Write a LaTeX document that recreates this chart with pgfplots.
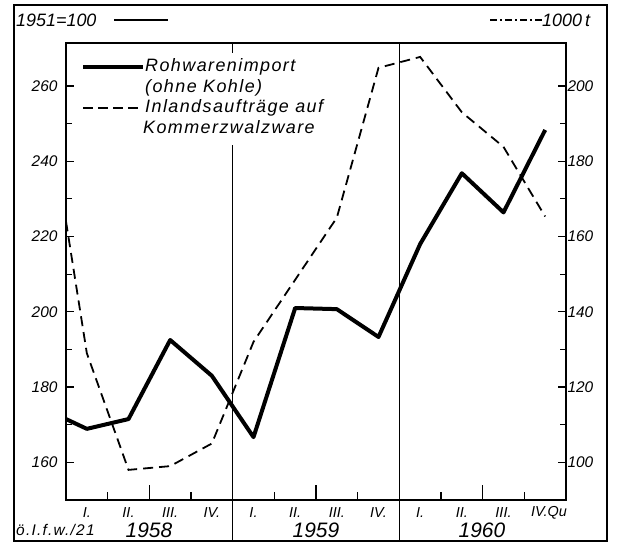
\documentclass[border=0pt]{standalone}
\usepackage{pgfplots}
\pgfplotsset{compat=1.18}
\usepackage{fontspec}
\setmainfont{Liberation Sans}
\newfontfamily\lsp[LetterSpace=8]{Liberation Sans}
\newcommand{\fs}[1]{\fontsize{#1}{#1}\selectfont\itshape}
\newcommand{\fl}[1]{\lsp\fontsize{#1}{#1}\selectfont\itshape}
\begin{document}
\begin{tikzpicture}
\useasboundingbox (0bp,0bp) rectangle (619bp,547bp);
\begin{scope}[x=1bp,y=1bp]
% outer frame
\draw[line width=2bp] (14,6) rectangle (607,542);
\end{scope}
\begin{axis}[
  at={(66bp,47bp)}, anchor=south west, scale only axis,
  width=500bp, height=457bp,
  xmin=0, xmax=12, ymin=150, ymax=271.4,
  axis line style={line width=1.6bp},
  tick align=inside, ytick pos=left, xtick pos=bottom,
  ytick={160,180,...,260}, minor ytick={170,190,...,250},
  xtick={1,3,5,7,9,11}, xticklabels={},
  extra x ticks={2,6,10}, extra x tick labels={},
  extra x tick style={major tick length=15bp},
  major tick length=8bp, minor tick length=6bp,
  every tick/.style={line width=1.2bp, black},
  /pgf/number format/assume math mode=true,
  yticklabel style={font=\fs{15.5}, xshift=-5bp},
  clip=false,
]
\addplot[black, line width=4bp, line join=round] coordinates {
 (0,171.5) (0.5,168.9) (1.5,171.5) (2.5,192.5) (3.5,183.0)
 (4.5,166.7) (5.5,201.0) (6.5,200.7) (7.5,193.3)
 (8.5,218.0) (9.5,236.8) (10.5,226.4) (11.5,248.3)};
\end{axis}
\begin{axis}[
  at={(66bp,47bp)}, anchor=south west, scale only axis,
  width=500bp, height=457bp,
  xmin=0, xmax=12, ymin=90, ymax=211.4,
  axis x line=none, axis y line*=right,
  axis line style={line width=1.6bp},
  tick align=inside,
  ytick={100,120,...,200}, minor ytick={110,130,...,190},
  major tick length=8bp, minor tick length=6bp,
  every tick/.style={line width=1.2bp, black},
  /pgf/number format/assume math mode=true,
  yticklabel style={font=\fs{15.5}, xshift=-2bp},
  clip=false,
]
\addplot[black, line width=1.8bp, dash pattern=on 10bp off 6bp] coordinates {
 (0,164) (0.5,129) (1.5,98) (2.5,99) (3.5,105)
 (4.5,132) (5.5,148.5) (6.5,165) (7.5,204.8)
 (8.5,207.7) (9.5,193) (10.5,183.8) (11.5,165.3)};
\end{axis}
\begin{scope}[x=1bp,y=1bp]
% year separators
\draw[line width=1.4bp] (232.7,6) -- (232.7,402);
\draw[line width=1.4bp] (232.7,504) -- (232.7,494);
\draw[line width=1.4bp] (399.3,6) -- (399.3,504);
% legend
\draw[line width=3.5bp] (83,480) -- (143,480);
\node[anchor=west, inner sep=0] at (145,480) {\fl{18}Rohwarenimport};
\node[anchor=west, inner sep=0] at (145,459) {\fl{18}(ohne Kohle)};
\draw[line width=1.8bp, dash pattern=on 10bp off 5bp] (83,439) -- (143,439);
\node[anchor=west, inner sep=0] at (145,439) {\fl{18}Inlandsaufträge auf};
\node[anchor=west, inner sep=0] at (143,420) {\fl{18}Kommerzwalzware};
% header
\node[anchor=west, inner sep=0] at (16,527) {\fs{18}1951=100};
\draw[line width=2.5bp] (114,527) -- (168,527);
\draw[line width=1.4bp, dash pattern=on 7bp off 3bp on 2bp off 3bp] (490,527) -- (542,527);
\node[anchor=west, inner sep=0] at (542,527) {\fs{18}1000\,t};
% quarter labels
\foreach \x/\l in {86.8/I., 128.5/II., 170.2/III., 211.8/IV., 253.5/I., 295.2/II., 336.8/III., 378.5/IV., 420.2/I., 461.8/II., 503.5/III.}
  \node[inner sep=0] at (\x,34) {\fs{14.5}\l};
\node[inner sep=0] at (549,34) {\fs{14.5}IV.Qu};
% years
\node[inner sep=0] at (149,17) {\fs{21}1958};
\node[inner sep=0] at (316,17) {\fs{21}1959};
\node[inner sep=0] at (482,17) {\fs{21}1960};
\node[anchor=west, inner sep=0] at (16,17) {\fl{15.5}ö.I.f.w./21};
\end{scope}
\end{tikzpicture}
\end{document}
